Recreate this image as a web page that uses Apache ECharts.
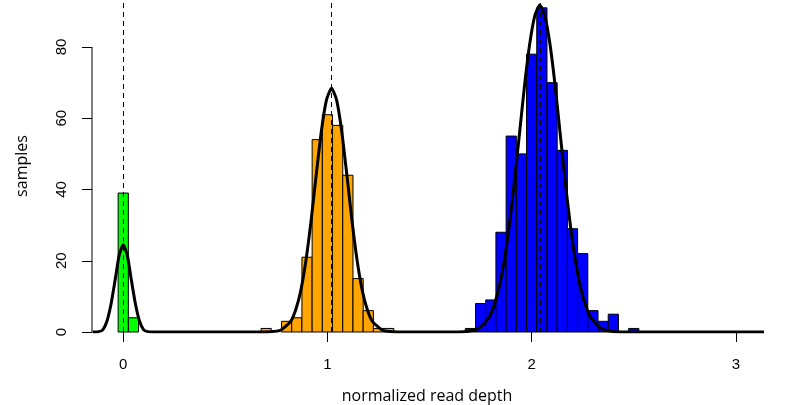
<!DOCTYPE html>
<html>
<head>
<meta charset="utf-8">
<script src="https://cdn.jsdelivr.net/npm/echarts@6/dist/echarts.min.js"></script>
<style>
  html, body { margin: 0; padding: 0; background: #fff; }
  #chart { width: 788px; height: 405px; }
</style>
</head>
<body>
<div id="chart"></div>
<script>
// histogram bins (bin centres), bin width 0.05
const binWidth = 0.05;
const greenBins = [0, 0.05];
const greenCounts = [39, 4];
const orangeBins = [0.70, 0.75, 0.80, 0.85, 0.90, 0.95, 1.00, 1.05, 1.10, 1.15, 1.20, 1.25, 1.30];
const orangeCounts = [1, 0, 3, 4, 21, 54, 61, 58, 44, 15, 6, 1, 1];
const blueBins = [1.70, 1.75, 1.80, 1.85, 1.90, 1.95, 2.00, 2.05, 2.10, 2.15, 2.20, 2.25, 2.30, 2.35, 2.40, 2.45, 2.50];
const blueCounts = [1, 8, 9, 28, 55, 50, 78, 91, 70, 51, 29, 22, 6, 3, 5, 0, 1];

// fitted density curve
const densityX = [-0.15, -0.12, -0.10, -0.08, -0.06, -0.04, -0.02, 0, 0.02, 0.04, 0.06, 0.08, 0.10, 0.12, 0.15,
  0.66, 0.72, 0.77, 0.82, 0.845, 0.87, 0.895, 0.92, 0.945, 0.97, 0.995, 1.02, 1.045, 1.07, 1.095, 1.12, 1.145, 1.17, 1.195, 1.22, 1.27, 1.32, 1.38,
  1.64, 1.69, 1.74, 1.79, 1.815, 1.84, 1.865, 1.89, 1.915, 1.94, 1.965, 1.99, 2.015, 2.04, 2.065, 2.09, 2.115, 2.14, 2.165, 2.19, 2.215, 2.24, 2.265, 2.29, 2.34, 2.39, 2.44, 3.14];
const densityY = [0, 0.1, 0.6, 3, 7.8, 14.5, 21.5, 24.5, 21.5, 14.5, 7.8, 3, 0.6, 0.1, 0,
  0, 0.06, 0.5, 3.0, 6.3, 11.8, 20.2, 31.3, 44.1, 56.3, 65.1, 68.4, 65.1, 56.3, 44.1, 31.3, 20.2, 11.8, 6.3, 3.0, 0.5, 0.06, 0,
  0, 0.2, 1.0, 4.0, 7.3, 12.4, 19.8, 29.7, 41.9, 55.5, 69.1, 80.7, 88.7, 91.8, 88.7, 80.7, 69.1, 55.5, 41.9, 29.7, 19.8, 12.4, 7.3, 4.0, 1.0, 0.2, 0, 0];

// copy-number means (dashed lines)
const meanLines = [0, 1.02, 2.04];

const xTicks = [0, 1, 2, 3];
const yTicks = [0, 20, 40, 60, 80];
const xMin = -0.153, xMax = 3.128;
const yMax = 93.2;

const chart = echarts.init(document.getElementById('chart'), null, { renderer: 'canvas' });

function histSeries(bins, counts, color) {
  return {
    type: 'custom',
    data: bins.map((b, i) => [b, counts[i]]).filter(d => d[1] > 0),
    encode: { x: 0, y: 1 },
    renderItem: function (params, api) {
      const topLeft = api.coord([api.value(0) - binWidth / 2, api.value(1)]);
      const bottomRight = api.coord([api.value(0) + binWidth / 2, 0]);
      return {
        type: 'rect',
        shape: {
          x: topLeft[0],
          y: topLeft[1],
          width: bottomRight[0] - topLeft[0],
          height: bottomRight[1] - topLeft[1]
        },
        style: { fill: color, stroke: '#000', lineWidth: 1 }
      };
    },
    z: 2
  };
}

const labelFont = { fontFamily: '"Liberation Sans", Arial, sans-serif', fontSize: 15, color: '#000' };
const nameFont = { fontFamily: '"Open Sans", sans-serif', fontSize: 16, color: '#000' };

const option = {
  animation: false,
  backgroundColor: '#fff',
  grid: { left: 92, right: 26, top: 0, bottom: 73, outerBoundsMode: 'none' },
  xAxis: {
    type: 'value',
    min: xMin,
    max: xMax,
    name: 'normalized read depth',
    nameLocation: 'middle',
    nameGap: 56,
    nameTextStyle: nameFont,
    axisLine: { show: false, onZero: false },
    axisTick: { show: true, customValues: xTicks, length: 10, lineStyle: { color: '#000', width: 1 } },
    axisLabel: Object.assign({ customValues: xTicks, margin: 25 }, labelFont),
    splitLine: { show: false }
  },
  yAxis: {
    type: 'value',
    min: 0,
    max: yMax,
    name: 'samples',
    nameLocation: 'middle',
    nameGap: 62,
    nameTextStyle: nameFont,
    axisLine: { show: false, onZero: false },
    axisTick: { show: true, customValues: yTicks, length: 10, lineStyle: { color: '#000', width: 1 } },
    axisLabel: Object.assign({ customValues: yTicks, rotate: 90, margin: 23 }, labelFont),
    splitLine: { show: false }
  },
  series: [
    histSeries(greenBins, greenCounts, '#00ff00'),
    histSeries(orangeBins, orangeCounts, '#ffa500'),
    histSeries(blueBins, blueCounts, '#0000ff'),
    {
      // y axis line, only between first and last tick
      type: 'line',
      data: [[xMin, yTicks[0]], [xMin, yTicks[yTicks.length - 1]]],
      showSymbol: false,
      clip: false,
      lineStyle: { color: '#000', width: 1 },
      silent: true,
      z: 3
    },
    {
      type: 'line',
      data: [],
      markLine: {
        silent: true,
        symbol: ['none', 'none'],
        label: { show: false },
        lineStyle: { color: '#000', width: 1, type: [5, 4] },
        data: meanLines.map(v => ({ xAxis: v }))
      },
      z: 4
    },
    {
      type: 'line',
      data: densityX.map((x, i) => [x, densityY[i]]),
      smooth: 0.2,
      showSymbol: false,
      lineStyle: { color: '#000', width: 3 },
      silent: true,
      z: 5
    }
  ]
};

chart.setOption(option);

window.addEventListener('resize', function () {
  chart.resize();
});
</script>
</body>
</html>
